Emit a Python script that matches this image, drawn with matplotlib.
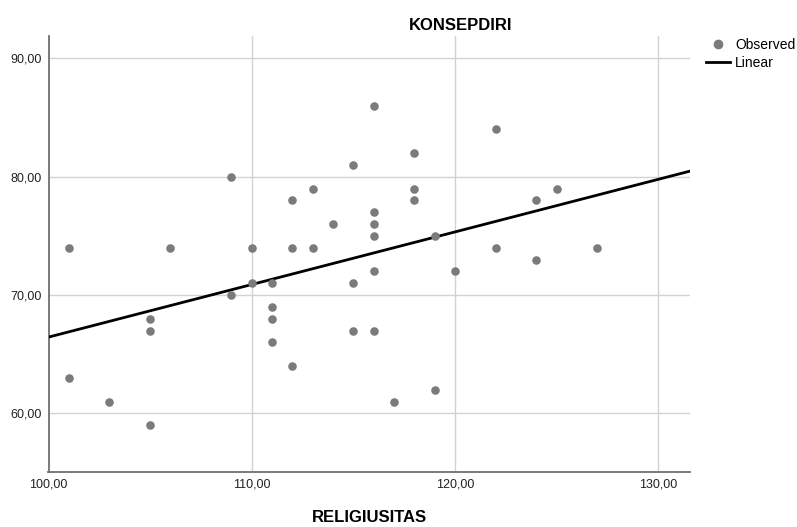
import numpy as np
import matplotlib
matplotlib.use("Agg")
import matplotlib.pyplot as plt
from matplotlib.lines import Line2D

plt.rcParams['font.family'] = ['Liberation Sans', 'DejaVu Sans']

religiusitas = [101, 101, 103, 105, 105, 105, 106, 109, 109, 110, 110, 111, 111, 111, 111,
                112, 112, 112, 113, 113, 114, 115, 115, 115, 116, 116, 116, 116, 116, 116,
                117, 118, 118, 118, 119, 119, 120, 122, 122, 124, 124, 125, 127]
konsepdiri = [74, 63, 61, 68, 67, 59, 74, 80, 70, 74, 71, 71, 69, 68, 66,
              78, 74, 64, 79, 74, 76, 81, 71, 67, 86, 77, 76, 75, 72, 67,
              61, 82, 79, 78, 75, 62, 72, 84, 74, 78, 73, 79, 74]

x = np.array(religiusitas, dtype=float)
y = np.array(konsepdiri, dtype=float)
b1, b0 = np.polyfit(x, y, 1)

fig = plt.figure(figsize=(7.97, 5.27), dpi=100)
ax = fig.add_axes([48.5/797, 1 - 472/527, (690 - 48.5)/797, (472 - 36)/527])

xmin, xmax = 100, 131.56
ymin, ymax = 55.04, 91.9

xl = np.array([xmin, xmax])
ax.plot(xl, b0 + b1*xl, color='black', lw=2, zorder=3)
ax.scatter(x, y, s=38, color='#7b7b7b', zorder=4, linewidths=0)

ax.set_xlim(xmin, xmax)
ax.set_ylim(ymin, ymax)
ax.set_xticks([100, 110, 120, 130])
ax.set_yticks([60, 70, 80, 90])
ax.set_xticklabels(['100,00', '110,00', '120,00', '130,00'])
ax.set_yticklabels(['60,00', '70,00', '80,00', '90,00'])
ax.tick_params(length=0, labelsize=9, labelcolor='#222222', pad=5)
ax.grid(True, color='#d2d2d2', lw=1)
ax.set_axisbelow(True)
for s in ['top', 'right']:
    ax.spines[s].set_visible(False)
for s in ['left', 'bottom']:
    ax.spines[s].set_color('#707070')
    ax.spines[s].set_linewidth(1.3)

fig.text(461/797, 1 - 25/527, 'KONSEPDIRI', ha='center', va='center',
         fontsize=12, fontweight='bold')
fig.text(369/797, 1 - 517/527, 'RELIGIUSITAS', ha='center', va='center',
         fontsize=12, fontweight='bold')

handles = [Line2D([], [], marker='o', ls='none', color='#7b7b7b', markersize=6),
           Line2D([], [], color='black', lw=2)]
fig.legend(handles, ['Observed', 'Linear'], loc='upper left',
           bbox_to_anchor=(706/797, 1 - 38/527), frameon=False, fontsize=10,
           handlelength=1.73, handletextpad=0.36, labelspacing=0.3,
           borderpad=0, borderaxespad=0)

fig.savefig('out.png', dpi=100)
